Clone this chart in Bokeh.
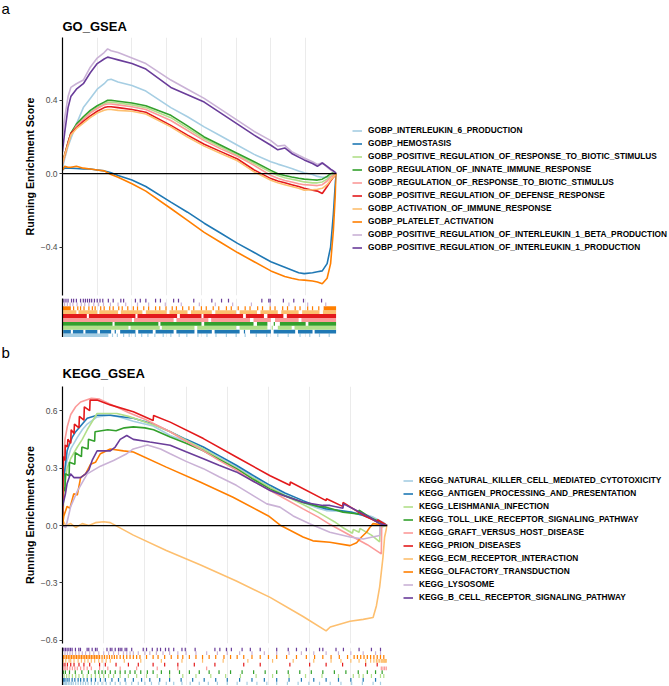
from bokeh.plotting import figure
from bokeh.models import (Range1d, FixedTicker, Grid, Legend, LegendItem, Title, Span,
                          CustomJSTickFormatter)
from bokeh.layouts import column
from bokeh.embed import file_html
from bokeh.resources import INLINE

FONT = "Liberation Sans"
PAIRED = ["#A6CEE3", "#1F78B4", "#B2DF8A", "#33A02C", "#FB9A99",
          "#E31A1C", "#FDBF6F", "#FF7F00", "#CAB2D6", "#6A3D9A"]

# gene rank axis, in thousands of genes
N_RANK = 39.45
GRID_TICKS = [5, 10, 15, 20, 25, 30, 35]
GO_YTICKS = [-0.4, 0.0, 0.4]
KEGG_YTICKS = [-0.6, -0.3, 0.0, 0.3, 0.6]

# ---------------- GO panel ----------------
GO_TERMS = ["GOBP_INTERLEUKIN_6_PRODUCTION", "GOBP_HEMOSTASIS",
            "GOBP_POSITIVE_REGULATION_OF_RESPONSE_TO_BIOTIC_STIMULUS",
            "GOBP_REGULATION_OF_INNATE_IMMUNE_RESPONSE",
            "GOBP_REGULATION_OF_RESPONSE_TO_BIOTIC_STIMULUS",
            "GOBP_POSITIVE_REGULATION_OF_DEFENSE_RESPONSE",
            "GOBP_ACTIVATION_OF_IMMUNE_RESPONSE", "GOBP_PLATELET_ACTIVATION",
            "GOBP_POSITIVE_REGULATION_OF_INTERLEUKIN_1_BETA_PRODUCTION",
            "GOBP_POSITIVE_REGULATION_OF_INTERLEUKIN_1_PRODUCTION"]

GO_RANK = [0, 0.3, 0.8, 1.2, 2, 3, 4, 5, 6, 6.5, 7, 8, 10, 12, 15.6, 18, 20.4, 22.8, 25.2,
           27.6, 30, 31, 32, 33, 34, 34.8, 36, 36.7, 37.4, 38.1, 38.6, 39.0, 39.3, 39.45]
go_il6 = [0.03, 0.08, 0.15, 0.19, 0.27, 0.36, 0.41, 0.46, 0.49, 0.51, 0.515, 0.50, 0.48, 0.45,
          0.36, 0.31, 0.255, 0.205, 0.155, 0.105, 0.065, 0.052, 0.04, 0.028, 0.015, 0.005,
          -0.005, -0.015, -0.02, -0.02, -0.015, -0.01, -0.005, 0]
go_hemo = [0.02, 0.03, 0.03, 0.03, 0.028, 0.025, 0.025, 0.02, 0.015, 0.01, 0.005, -0.01,
           -0.035, -0.07, -0.155, -0.21, -0.27, -0.325, -0.38, -0.43, -0.48, -0.495, -0.51,
           -0.525, -0.54, -0.545, -0.54, -0.535, -0.53, -0.49, -0.40, -0.22, -0.04, 0]
go_posbio = [0.05, 0.09, 0.16, 0.21, 0.26, 0.30, 0.335, 0.36, 0.38, 0.39, 0.39, 0.385, 0.375,
             0.36, 0.305, 0.248, 0.19, 0.145, 0.10, 0.055, 0.008, -0.01, -0.022, -0.03,
             -0.038, -0.045, -0.05, -0.05, -0.045, -0.03, -0.012, -0.005, -0.002, 0]
go_innate = [0.06, 0.10, 0.17, 0.22, 0.27, 0.31, 0.345, 0.37, 0.39, 0.40, 0.40, 0.395, 0.385,
             0.37, 0.318, 0.26, 0.20, 0.155, 0.11, 0.065, 0.018, 0.0, -0.01, -0.018, -0.025,
             -0.03, -0.033, -0.035, -0.03, -0.015, 0.0, 0.005, 0.003, 0]
go_biotic = [0.05, 0.09, 0.16, 0.21, 0.26, 0.295, 0.33, 0.355, 0.375, 0.38, 0.38, 0.375, 0.365,
             0.35, 0.29, 0.235, 0.18, 0.135, 0.095, 0.045, -0.01, -0.025, -0.037, -0.045,
             -0.055, -0.06, -0.063, -0.065, -0.06, -0.04, -0.02, -0.01, -0.004, 0]
go_defense = [0.07, 0.10, 0.17, 0.22, 0.25, 0.285, 0.315, 0.34, 0.36, 0.365, 0.365, 0.36, 0.35,
              0.335, 0.263, 0.21, 0.16, 0.12, 0.08, 0.02, -0.027, -0.04, -0.05, -0.06, -0.07,
              -0.08, -0.09, -0.095, -0.108, -0.07, -0.04, -0.02, -0.008, 0]
go_activ = [0.06, 0.10, 0.16, 0.21, 0.245, 0.275, 0.305, 0.33, 0.345, 0.35, 0.35, 0.345, 0.34,
            0.325, 0.255, 0.20, 0.15, 0.11, 0.07, 0.01, -0.036, -0.05, -0.06, -0.07, -0.08,
            -0.09, -0.088, -0.085, -0.08, -0.06, -0.035, -0.018, -0.007, 0]
go_platelet = [0.02, 0.04, 0.035, 0.035, 0.04, 0.03, 0.025, 0.02, 0.015, 0.005, -0.005, -0.02,
               -0.055, -0.095, -0.19, -0.255, -0.32, -0.375, -0.43, -0.48, -0.53, -0.545,
               -0.56, -0.57, -0.578, -0.58, -0.585, -0.59, -0.60, -0.57, -0.49, -0.31, -0.10, 0]
go_il1b = [0.20, 0.30, 0.42, 0.47, 0.49, 0.51, 0.58, 0.63, 0.66, 0.68, 0.67, 0.66, 0.63, 0.60,
           0.51, 0.46, 0.41, 0.35, 0.29, 0.23, 0.18, 0.15, 0.155, 0.12, 0.10, 0.085, 0.065,
           0.05, 0.06, 0.035, 0.02, 0.012, 0.005, 0]
go_il1 = [0.12, 0.22, 0.36, 0.42, 0.46, 0.49, 0.55, 0.60, 0.625, 0.635, 0.63, 0.62, 0.60, 0.57,
          0.47, 0.43, 0.39, 0.33, 0.27, 0.21, 0.155, 0.13, 0.14, 0.11, 0.09, 0.075, 0.055, 0.04,
          0.058, 0.04, 0.025, 0.015, 0.006, 0]
GO_ES = [go_il6, go_hemo, go_posbio, go_innate, go_biotic, go_defense, go_activ,
         go_platelet, go_il1b, go_il1]

# hit-rug of GO sets: dense runs (start, end) and single hits, rank in thousands
go_il6_runs = [(0.1, 6.6)]
go_il6_hits = [7.2, 7.9, 8.8, 9.6, 10.5, 11.4, 12.3, 13.3, 14.5, 15.6, 16.8, 17.9, 19.5, 20.8,
               22.1, 23.6, 25.0, 26.3, 27.9, 29.4, 31.0, 32.5, 34.2, 35.6, 37.0, 38.4]
go_hemo_runs = [(0.1, 1.2), (1.5, 3.0), (3.3, 5.0), (5.4, 7.0), (8.3, 10.5), (10.9, 13.0),
                (13.4, 16.0), (16.4, 19.0), (19.4, 21.5), (21.9, 25.5), (27.0, 30.0),
                (30.4, 33.5), (33.9, 36.0), (36.3, 39.4)]
go_hemo_hits = [7.6, 26.2]
go_posbio_runs = [(0, 9.5), (9.8, 14.0), (14.3, 19.0), (19.4, 25.0), (25.5, 29.5),
                  (31.0, 33.0), (33.4, 39.4)]
go_posbio_hits = [30.2]
go_innate_runs = [(0, 7.2), (7.5, 13.8), (14.1, 20.0), (20.4, 27.5), (28.0, 29.5),
                  (31.3, 35.0), (35.4, 39.4)]
go_innate_hits = [30.5]
go_biotic_runs = [(0, 10.0), (10.3, 16.0), (16.4, 21.0), (21.4, 27.0), (27.5, 30.0),
                  (30.6, 34.0), (34.4, 39.4)]
go_biotic_hits = []
go_defense_runs = [(0, 3.5), (3.8, 10.5), (10.8, 16.5), (16.9, 20.0), (20.3, 26.0),
                   (26.4, 29.0), (29.5, 31.8), (32.3, 39.4)]
go_defense_hits = []
go_activ_runs = [(0, 2.0), (2.3, 5.0), (5.3, 8.0), (8.4, 11.5), (12.0, 15.0), (15.4, 18.0),
                 (18.5, 21.5), (22.0, 25.0), (25.5, 28.0), (28.5, 31.0), (31.5, 34.0),
                 (34.5, 37.0), (37.5, 39.4)]
go_activ_hits = []
go_platelet_runs = [(0, 1.2), (37.6, 39.4)]
go_platelet_hits = [1.6, 2.2, 2.6, 3.1, 3.8, 4.3, 4.7, 5.5, 6.0, 6.8, 7.3, 8.1, 8.6, 9.4, 10.2,
                    10.8, 11.7, 12.4, 13.4, 14.0, 14.9, 15.8, 16.4, 17.3, 18.2, 18.9, 20.0,
                    20.7, 21.7, 22.5, 23.6, 24.3, 25.3, 26.3, 27.0, 28.1, 28.8, 29.9, 30.6,
                    31.7, 32.4, 33.5, 34.2, 35.3, 36.0, 36.9]
go_il1b_runs = []
go_il1b_hits = [0.3, 0.7, 1.1, 1.5, 2.1, 2.7, 3.2, 3.8, 4.5, 5.2, 5.9, 6.9, 8.0, 9.1, 10.8,
                12.4, 14.8, 17.1, 19.7, 22.0, 24.5, 27.2, 29.9, 32.6, 35.3, 37.9]
go_il1_runs = []
go_il1_hits = [0.2, 0.5, 0.8, 1.3, 1.6, 2.0, 2.6, 3.0, 3.3, 3.6, 3.9, 4.2, 4.6, 5.0, 5.4, 5.8,
               6.6, 7.3, 8.4, 8.8, 10.5, 11.2, 12.0, 13.4, 14.1, 16.0, 16.7, 18.9, 21.5, 22.9,
               23.9, 28.7, 29.7, 29.9, 31.8, 33.3, 34.7, 37.3]
GO_RUNS = [go_il6_runs, go_hemo_runs, go_posbio_runs, go_innate_runs, go_biotic_runs,
           go_defense_runs, go_activ_runs, go_platelet_runs, go_il1b_runs, go_il1_runs]
GO_HITS = [go_il6_hits, go_hemo_hits, go_posbio_hits, go_innate_hits, go_biotic_hits,
           go_defense_hits, go_activ_hits, go_platelet_hits, go_il1b_hits, go_il1_hits]

# ---------------- KEGG panel ----------------
KEGG_TERMS = ["KEGG_NATURAL_KILLER_CELL_MEDIATED_CYTOTOXICITY",
              "KEGG_ANTIGEN_PROCESSING_AND_PRESENTATION", "KEGG_LEISHMANIA_INFECTION",
              "KEGG_TOLL_LIKE_RECEPTOR_SIGNALING_PATHWAY", "KEGG_GRAFT_VERSUS_HOST_DISEASE",
              "KEGG_PRION_DISEASES", "KEGG_ECM_RECEPTOR_INTERACTION",
              "KEGG_OLFACTORY_TRANSDUCTION", "KEGG_LYSOSOME",
              "KEGG_B_CELL_RECEPTOR_SIGNALING_PATHWAY"]

k_nk_x = [0, 0.1, 0.3, 0.56, 1.0, 1.8, 2.4, 3.0, 4.2, 5.8, 7.0, 8.6, 11.0, 13.07, 15.0, 17.1,
          19.0, 21.1, 23.0, 25.2, 27.0, 29.2, 31.0, 32.0, 33.5, 35.0, 36.5, 37.7, 38.5, 39.0, 39.4]
k_nk_y = [0, 0.2, 0.28, 0.34, 0.40, 0.46, 0.50, 0.53, 0.567, 0.576, 0.565, 0.545, 0.52, 0.47,
          0.44, 0.40, 0.355, 0.305, 0.255, 0.20, 0.16, 0.12, 0.09, 0.078, 0.075, 0.07, 0.06,
          0.044, 0.026, 0.015, 0]
k_ag_x = [0, 0.16, 0.3, 0.56, 0.8, 1.17, 1.6, 2.2, 3.0, 4.2, 5.8, 7.4, 8.6, 11.0, 13.07, 15.0,
          17.1, 19.0, 21.1, 23.0, 25.2, 27.0, 29.2, 31.0, 32.0, 33.5, 35.0, 36.5, 37.5, 38.5, 39.4]
k_ag_y = [0, 0.25, 0.30, 0.39, 0.42, 0.46, 0.49, 0.52, 0.56, 0.576, 0.576, 0.567, 0.56, 0.53,
          0.49, 0.45, 0.41, 0.365, 0.315, 0.265, 0.21, 0.17, 0.13, 0.10, 0.087, 0.08, 0.07,
          0.052, 0.035, 0.01, 0]
k_lei_x = [0, 0.2, 0.56, 1.0, 1.8, 2.4, 3.0, 4.2, 5.5, 6.6, 8.0, 9.4, 11.4, 13.07, 15.0, 17.1,
           19.0, 21.1, 23.0, 25.2, 27.0, 29.2, 31.0, 32.0, 33.0, 34.0, 35.2, 35.3, 36.0, 36.1,
           37.5, 38.5, 38.55, 39.4]
k_lei_y = [0, 0.18, 0.30, 0.35, 0.41, 0.45, 0.50, 0.585, 0.585, 0.585, 0.57, 0.55, 0.52, 0.49,
           0.445, 0.40, 0.35, 0.30, 0.25, 0.20, 0.155, 0.11, 0.07, 0.045, 0.02, -0.01, -0.04,
           -0.02, -0.035, -0.015, -0.05, -0.085, -0.01, 0]
k_tlr_x = [0, 0.1, 0.3, 0.35, 0.8, 0.85, 1.5, 1.55, 2.3, 2.35, 3.1, 3.15, 3.9, 3.95, 5.5, 6.5,
           7.5, 8.6, 10.0, 11.06, 13.07, 15.0, 17.1, 19.0, 21.1, 23.0, 25.2, 27.0, 29.2, 31.0,
           32.0, 34.05, 35.9, 36.0, 37.3, 38.5, 39.4]
k_tlr_y = [0, 0.20, 0.18, 0.27, 0.26, 0.33, 0.32, 0.38, 0.36, 0.41, 0.40, 0.45, 0.44, 0.49,
           0.50, 0.495, 0.51, 0.515, 0.51, 0.50, 0.462, 0.43, 0.39, 0.345, 0.297, 0.245, 0.19,
           0.155, 0.12, 0.10, 0.096, 0.07, 0.06, 0.08, 0.044, 0.02, 0]
k_gvhd_x = [0, 0.1, 0.3, 0.6, 1.0, 1.6, 2.2, 3.5, 4.5, 6.0, 8.0, 10.0, 13.07, 15.0, 17.1, 19.0,
            21.1, 23.0, 25.2, 27.0, 29.2, 31.0, 32.5, 34.0, 35.5, 37.0, 38.7, 38.75, 39.4]
k_gvhd_y = [0, 0.30, 0.45, 0.52, 0.58, 0.62, 0.645, 0.665, 0.66, 0.63, 0.59, 0.555, 0.49, 0.44,
            0.39, 0.34, 0.29, 0.235, 0.183, 0.14, 0.087, 0.045, 0.005, -0.03, -0.065, -0.1,
            -0.148, 0.005, 0]
k_prion_x = [0, 0.1, 0.3, 0.35, 0.6, 0.65, 1.0, 1.05, 1.4, 1.45, 2.0, 2.05, 2.6, 2.65, 3.3,
             3.35, 4.2, 5.8, 8.6, 11.0, 11.06, 13.07, 17.1, 21.1, 25.2, 27.6, 27.65, 32.0,
             32.05, 34.0, 34.05, 36.7, 38.2, 38.25, 39.4]
k_prion_y = [0, 0.36, 0.34, 0.42, 0.41, 0.45, 0.43, 0.50, 0.48, 0.53, 0.51, 0.57, 0.55, 0.62,
             0.60, 0.655, 0.655, 0.63, 0.594, 0.548, 0.575, 0.54, 0.454, 0.358, 0.26, 0.21,
             0.227, 0.13, 0.14, 0.10, 0.12, 0.05, 0.02, 0.03, 0]
k_ecm_x = [0, 0.4, 1.0, 1.6, 2.4, 3.2, 4.0, 5.0, 5.8, 8.6, 12.6, 16.7, 21.1, 25.2, 29.2, 32.0,
           32.5, 34.9, 36.5, 37.7, 38.1, 38.5, 38.9, 39.1, 39.4]
k_ecm_y = [0.03, 0.0, 0.01, -0.01, 0.01, 0.0, 0.015, 0.02, 0.015, -0.05, -0.13, -0.205, -0.29,
           -0.375, -0.475, -0.55, -0.53, -0.50, -0.49, -0.48, -0.42, -0.32, -0.166, -0.06, 0]
k_olf_x = [0, 0.16, 0.56, 0.9, 1.37, 1.8, 2.2, 2.8, 3.4, 4.0, 4.6, 5.8, 7.4, 8.6, 12.6, 16.7,
           20.7, 25.0, 26.5, 29.2, 30.4, 32.45, 34.9, 35.7, 36.3, 36.9, 37.3, 37.7, 39.4]
k_olf_y = [0.0, 0.05, 0.10, 0.09, 0.166, 0.16, 0.25, 0.27, 0.32, 0.33, 0.375, 0.40, 0.39, 0.384,
           0.305, 0.227, 0.148, 0.05, 0.0, -0.06, -0.08, -0.087, -0.105, -0.09, -0.06, -0.035,
           -0.01, 0.01, 0]
k_lys_x = [0, 0.4, 1.0, 1.8, 3.0, 4.6, 6.2, 7.8, 8.6, 10.3, 11.9, 13.07, 15.0, 17.1, 19.0, 21.1,
           23.0, 24.8, 26.4, 28.0, 30.0, 32.45, 34.9, 36.5, 38.5, 38.55, 39.4]
k_lys_y = [0.0, -0.01, 0.10, 0.18, 0.27, 0.31, 0.34, 0.375, 0.40, 0.42, 0.40, 0.375, 0.335,
           0.297, 0.255, 0.21, 0.16, 0.113, 0.096, 0.05, 0.009, -0.035, -0.06, -0.07, -0.052,
           0.0, 0]
k_bcr_x = [0, 0.36, 0.56, 0.97, 1.4, 2.2, 2.8, 3.2, 3.6, 4.2, 5.8, 6.4, 7.0, 7.8, 8.6, 10.6,
           13.07, 15.0, 17.1, 19.0, 21.1, 23.0, 25.2, 26.8, 29.2, 31.6, 32.45, 34.05, 34.1,
           36.1, 37.3, 38.5, 39.4]
k_bcr_y = [0.1, 0.166, 0.22, 0.27, 0.25, 0.25, 0.27, 0.29, 0.34, 0.39, 0.39, 0.41, 0.45, 0.47,
           0.45, 0.436, 0.419, 0.385, 0.349, 0.315, 0.28, 0.235, 0.183, 0.157, 0.122, 0.105,
           0.105, 0.09, 0.113, 0.07, 0.044, 0.01, 0]
KEGG_X = [k_nk_x, k_ag_x, k_lei_x, k_tlr_x, k_gvhd_x, k_prion_x, k_ecm_x, k_olf_x, k_lys_x, k_bcr_x]
KEGG_Y = [k_nk_y, k_ag_y, k_lei_y, k_tlr_y, k_gvhd_y, k_prion_y, k_ecm_y, k_olf_y, k_lys_y, k_bcr_y]

k_nk_hits = [0.1, 0.2, 0.35, 0.5, 0.7, 0.9, 1.1, 1.3, 1.6, 1.9, 2.2, 2.5, 2.8, 3.1, 3.5, 3.9,
             4.3, 4.8, 5.3, 5.8, 6.4, 7.0, 7.7, 8.4, 9.2, 10.0, 10.8, 11.7, 12.6, 13.5, 14.5,
             15.5, 16.6, 17.7, 18.8, 20.0, 21.2, 22.4, 23.6, 24.8, 26.0, 27.3, 28.6, 29.9,
             31.2, 32.5, 33.8, 35.1, 36.4, 37.7, 38.6]
k_ag_hits = [0.05, 0.16, 0.3, 0.56, 0.8, 1.17, 1.5, 1.9, 2.2, 2.6, 3.0, 3.5, 4.0, 4.6, 5.2,
             6.0, 6.8, 7.6, 8.6, 9.6, 10.6, 11.8, 13.0, 14.4, 15.8, 17.2, 18.6, 20.0, 21.5,
             23.0, 24.5, 26.0, 27.5, 29.0, 30.5, 32.0, 33.5, 35.0, 36.5, 38.0]
k_lei_hits = [0.2, 0.5, 0.8, 1.2, 1.6, 2.0, 2.5, 3.0, 3.5, 4.0, 4.5, 5.0, 5.6, 6.2, 7.0, 8.0,
              9.0, 10.2, 11.5, 13.0, 14.6, 16.2, 18.0, 19.8, 21.6, 23.5, 25.5, 27.5, 29.5,
              31.5, 33.5, 35.3, 36.0, 36.5, 37.5, 38.6, 39.0]
k_tlr_hits = [0.1, 0.35, 0.85, 1.55, 2.35, 3.15, 3.95, 4.4, 4.8, 5.2, 5.8, 6.4, 7.0, 7.6, 8.2,
              8.8, 9.5, 10.3, 11.0, 12.0, 13.0, 14.2, 15.4, 16.6, 17.8, 19.0, 20.4, 21.8,
              23.2, 24.6, 26.0, 27.4, 28.8, 30.2, 31.6, 33.0, 34.4, 35.9, 37.0, 38.0, 38.8]
k_gvhd_hits = [0.05, 0.2, 0.4, 0.6, 0.9, 1.2, 1.5, 1.8, 2.2, 2.6, 3.0, 3.5, 4.5, 5.5, 7.0, 9.0,
               11.5, 14.0, 17.5, 38.7, 38.9, 39.1, 39.3]
k_prion_hits = [0.05, 0.3, 0.6, 1.0, 1.4, 2.0, 2.6, 3.3, 4.5, 5.2, 6.5, 8.0, 9.2, 11.0, 12.4,
                14.0, 16.0, 18.5, 22.0, 24.0, 27.6, 30.0, 32.0, 34.0, 36.8, 38.2]
k_ecm_hits = [0.1, 0.4, 0.8, 1.0, 1.4, 1.9, 2.3, 2.7, 3.1, 3.5, 3.9, 4.4, 4.8, 5.3, 5.8, 7.5,
              9.5, 12.0, 14.5, 17.0, 19.5, 22.5, 25.5, 28.0, 30.5, 32.6, 33.8, 35.0, 36.0,
              36.8, 37.4, 37.8, 38.1, 38.3, 38.5, 38.7, 38.8, 38.9, 39.0, 39.1, 39.2, 39.3]
k_olf_hits = [0.1, 0.3, 0.5, 0.7, 0.9, 1.1, 1.3, 1.5, 1.7, 1.9, 2.1, 2.3, 2.5, 2.7, 2.9, 3.1,
              3.3, 3.5, 3.7, 3.9, 4.1, 4.3, 4.5, 4.8, 5.1, 5.4, 5.7, 6.0, 6.3, 6.6, 7.0, 7.4,
              7.8, 8.2, 8.6, 9.0, 9.4, 10.2, 11.0, 11.6, 12.4, 13.2, 14.0, 14.6, 15.4, 16.2,
              17.0, 17.8, 18.6, 19.6, 20.4, 21.2, 22.0, 23.0, 24.0, 25.0, 26.0, 27.2, 28.4,
              29.6, 30.6, 31.6, 32.6, 33.6, 34.6, 35.4, 35.8, 36.2, 36.6, 37.0, 37.4, 37.8,
              38.2, 38.6, 39.0]
k_lys_hits = [0.3, 0.6, 0.9, 1.2, 1.6, 2.0, 2.4, 2.8, 3.3, 3.8, 4.4, 5.0, 5.6, 6.2, 6.8, 7.4,
              7.8, 8.2, 8.6, 9.2, 10.0, 10.6, 11.4, 12.2, 13.0, 14.0, 15.0, 16.2, 17.5, 18.8,
              20.0, 21.5, 23.0, 24.5, 26.0, 27.5, 29.0, 30.5, 32.0, 33.5, 35.0, 36.5, 38.0, 38.6]
k_bcr_hits = [0.16, 0.36, 0.56, 0.77, 0.97, 1.17, 1.57, 1.98, 2.18, 2.99, 3.19, 3.6, 4.0, 4.2,
              5.4, 5.8, 6.0, 6.4, 6.8, 7.0, 7.2, 7.6, 7.8, 8.4, 9.8, 10.2, 10.9, 11.5, 11.9,
              12.5, 12.9, 13.5, 14.5, 14.9, 16.1, 18.5, 19.1, 19.9, 20.5, 21.8, 22.8, 24.0,
              26.0, 27.4, 28.4, 29.6, 31.2, 31.6, 33.2, 34.1, 36.0, 37.5, 38.6]
KEGG_HITS = [k_nk_hits, k_ag_hits, k_lei_hits, k_tlr_hits, k_gvhd_hits, k_prion_hits,
             k_ecm_hits, k_olf_hits, k_lys_hits, k_bcr_hits]


def fmt():
    return CustomJSTickFormatter(code="return tick.toFixed(1).replace('-', '\\u2212');")


def main_panel(letter, title, frame_w, frame_h, y_lo, y_hi, yticks, border_top,
               right_w, xs_list, ys_list, terms, legend_loc, x_range, t_off, l_off):
    p = figure(frame_width=frame_w, frame_height=frame_h, x_range=x_range,
               y_range=Range1d(y_lo, y_hi), output_backend="svg", toolbar_location=None,
               x_axis_location=None, title_location=None,
               min_border_left=62, min_border_right=right_w, min_border_top=border_top,
               min_border_bottom=0)
    p.outline_line_color = None
    p.grid.visible = False
    p.add_layout(Grid(dimension=0, ticker=FixedTicker(ticks=GRID_TICKS),
                      grid_line_color="#EBEBEB", grid_line_width=1))
    ax = p.yaxis[0]
    ax.ticker = FixedTicker(ticks=yticks)
    ax.formatter = fmt()
    ax.axis_line_color = "black"
    ax.axis_line_width = 1.2
    ax.major_tick_line_color = "#333333"
    ax.major_tick_out = 3
    ax.major_tick_in = 0
    ax.minor_tick_line_color = None
    ax.major_label_text_font = FONT
    ax.major_label_text_font_size = "8.5px"
    ax.major_label_text_color = "#4D4D4D"
    ax.major_label_standoff = 2
    ax.axis_label = "Running Enrichment Score"
    ax.axis_label_text_font = FONT
    ax.axis_label_text_font_style = "bold"
    ax.axis_label_text_font_size = "10.7px"
    ax.axis_label_text_color = "black"
    ax.axis_label_standoff = 2
    p.add_layout(Span(location=0, dimension="width", line_color="black", line_width=1.2))
    items = []
    for i, (xs, ys) in enumerate(zip(xs_list, ys_list)):
        r = p.line(xs, ys, line_color=PAIRED[i], line_width=1.6)
        items.append(LegendItem(label=terms[i], renderers=[r]))
    leg = Legend(items=items, location=legend_loc, orientation="vertical",
                 label_text_font=FONT, label_text_font_style="bold",
                 label_text_font_size="8.3px", label_text_color="black",
                 glyph_width=10, glyph_height=13, label_height=13, label_standoff=6,
                 spacing=0, padding=0, margin=0, border_line_color=None,
                 background_fill_alpha=0)
    p.add_layout(leg, "right")
    p.add_layout(Title(text=title, align="left", text_font=FONT, text_font_style="bold",
                       text_font_size="13px", text_color="black", standoff=t_off), "above")
    p.add_layout(Title(text=letter, align="left", offset=-61, text_font=FONT,
                       text_font_style="normal", text_font_size="15px",
                       text_color="black", standoff=l_off), "above")
    return p


def rug_panel(frame_w, frame_h, right_w, x_range, runs_list, hits_list, border_top):
    r = figure(frame_width=frame_w, frame_height=frame_h, x_range=x_range,
               y_range=Range1d(0, 10), output_backend="svg", toolbar_location=None,
               x_axis_location=None, title_location=None,
               min_border_left=62, min_border_right=right_w, min_border_top=border_top,
               min_border_bottom=0)
    r.outline_line_color = None
    r.grid.visible = False
    r.add_layout(Grid(dimension=0, ticker=FixedTicker(ticks=GRID_TICKS),
                      grid_line_color="#EBEBEB", grid_line_width=1))
    ax = r.yaxis[0]
    ax.ticker = FixedTicker(ticks=[])
    ax.axis_line_color = "black"
    ax.axis_line_width = 1.2
    ax.major_tick_line_color = None
    ax.minor_tick_line_color = None
    for i in range(10):
        runs = runs_list[i] if runs_list is not None else []
        if runs:
            r.quad(left=[a for a, b in runs], right=[b for a, b in runs],
                   bottom=i, top=i + 1, fill_color=PAIRED[i], line_color=None)
        hits = hits_list[i]
        if hits:
            r.segment(x0=hits, x1=hits, y0=i, y1=i + 1, line_color=PAIRED[i], line_width=1.2)
    return r


x_a = Range1d(0, N_RANK)
x_b = Range1d(0, N_RANK)

pa = main_panel("a", "GO_GSEA", 274, 258, -0.664, 0.742, GO_YTICKS, 37, 333,
                [GO_RANK] * 10, GO_ES, GO_TERMS, (16, 41.5), x_a, 8, -8)
pa.min_border_bottom = 3
ra = rug_panel(274, 39, 333, x_a, GO_RUNS, GO_HITS, 0)
pb = main_panel("b", "KEGG_GSEA", 325, 257, -0.616, 0.726, KEGG_YTICKS, 49, 282,
                KEGG_X, KEGG_Y, KEGG_TERMS, (16, 39.2), x_b, 11, -5)
pb.min_border_bottom = 4
rb = rug_panel(325, 38, 282, x_b, None, KEGG_HITS, 0)

layout = column(pa, ra, pb, rb, spacing=0)
open("out.html", "w").write(file_html(layout, INLINE))
